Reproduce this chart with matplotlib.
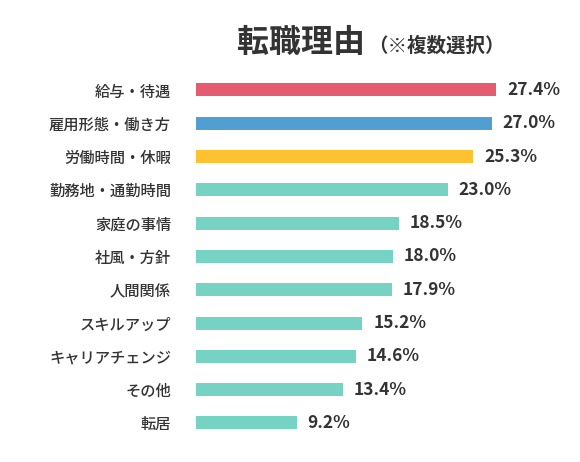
import matplotlib.pyplot as plt

plt.rcParams['font.family'] = ['Noto Sans CJK JP', 'DejaVu Sans']

# data
reasons = ['給与・待遇', '雇用形態・働き方', '労働時間・休暇', '勤務地・通勤時間',
           '家庭の事情', '社風・方針', '人間関係', 'スキルアップ',
           'キャリアチェンジ', 'その他', '転居']
percents = [27.4, 27.0, 25.3, 23.0, 18.5, 18.0, 17.9, 15.2, 14.6, 13.4, 9.2]
colors = ['#E55B70', '#4F9FD1', '#FEC131'] + ['#76D3C4'] * 8

TEXT = '#333333'
W, H = 580, 462

fig = plt.figure(figsize=(W / 100, H / 100), dpi=100)
ax = fig.add_axes([196 / W, 1 - 439.6 / H, 384 / W, (439.6 - 73.3) / H])

y = list(range(len(reasons)))
ax.barh(y, percents, height=0.39, color=colors)
ax.set_xlim(0, 384 / 10.95)
ax.set_ylim(len(reasons) - 0.5, -0.5)

for i, p in enumerate(percents):
    ax.text(p + 1.0, i, f'{p:.1f}%', va='center', ha='left',
            fontsize=12.5, fontweight='bold', color=TEXT)

ax.set_yticks(y)
ax.set_yticklabels(reasons, fontsize=11, fontweight='medium', color=TEXT)
ax.tick_params(axis='y', length=0, pad=18)
ax.set_xticks([])
for s in ax.spines.values():
    s.set_visible(False)

fig.text(237 / W, 1 - 43 / H, '転職理由', fontsize=23, fontweight='bold',
         color=TEXT, ha='left', va='center')
fig.text(368 / W, 1 - 46 / H, '（※複数選択）', fontsize=14, fontweight='bold',
         color=TEXT, ha='left', va='center')

fig.savefig('out.png', dpi=100, facecolor='white')
